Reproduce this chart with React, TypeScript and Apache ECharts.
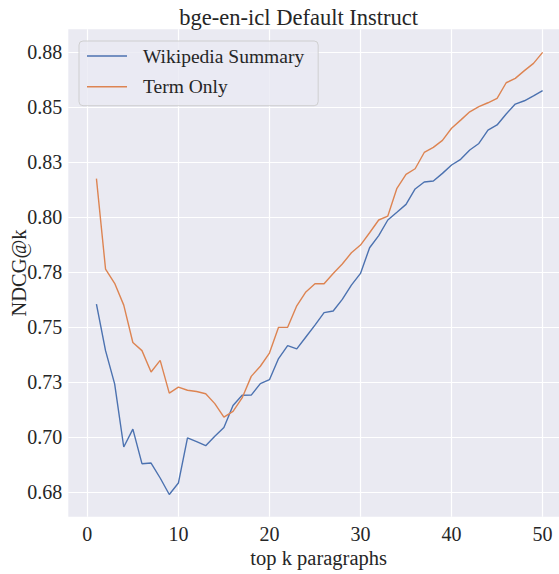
import React, { useEffect, useRef } from "react";
import * as echarts from "echarts";

const kValues = [1, 2, 3, 4, 5, 6, 7, 8, 9, 10, 11, 12, 13, 14, 15, 16, 17, 18, 19, 20, 21, 22, 23, 24, 25, 26, 27, 28, 29, 30, 31, 32, 33, 34, 35, 36, 37, 38, 39, 40, 41, 42, 43, 44, 45, 46, 47, 48, 49, 50];

const wikipediaSummary = [
  0.7606, 0.7394, 0.7243, 0.6956, 0.7037, 0.688, 0.6883, 0.6815, 0.674, 0.6792,
  0.6997, 0.698, 0.6962, 0.7005, 0.7045, 0.7145, 0.7191, 0.7192, 0.7244, 0.7262,
  0.7358, 0.7417, 0.7402, 0.7456, 0.751, 0.7567, 0.7574, 0.7627, 0.7692, 0.7745,
  0.7862, 0.7917, 0.7988, 0.8023, 0.8059, 0.8129, 0.8161, 0.8165, 0.82, 0.8238,
  0.8264, 0.8306, 0.8336, 0.8397, 0.842, 0.847, 0.8515, 0.853, 0.8552, 0.8576,
];

const termOnly = [
  0.8176, 0.7765, 0.77, 0.7601, 0.7431, 0.7394, 0.7297, 0.735, 0.7201, 0.7228,
  0.7214, 0.7208, 0.7198, 0.7153, 0.7092, 0.7118, 0.7179, 0.7277, 0.7323, 0.7383,
  0.75, 0.75, 0.7598, 0.7661, 0.7698, 0.7698, 0.7745, 0.7788, 0.7839, 0.7874,
  0.793, 0.7988, 0.8006, 0.8132, 0.8195, 0.8221, 0.8295, 0.8318, 0.835, 0.8405,
  0.8442, 0.848, 0.8503, 0.8521, 0.8541, 0.8612, 0.8632, 0.8667, 0.87, 0.875,
];

const xTicks = [0, 10, 20, 30, 40, 50];
const yTicks = [0.675, 0.7, 0.725, 0.75, 0.775, 0.8, 0.825, 0.85, 0.875];
const yTickLabels = ["0.68", "0.70", "0.73", "0.75", "0.78", "0.80", "0.83", "0.85", "0.88"];

const FONT = "'Liberation Serif', 'Times New Roman', serif";
const TEXT = "#262626";

export default function App() {
  const ref = useRef<HTMLDivElement>(null);

  useEffect(() => {
    document.body.style.margin = "0";
    if (!ref.current) return;
    const chart = echarts.init(ref.current, null, { renderer: "svg" });
    const pairs = (ys: number[]) => kValues.map((k, i) => [k, ys[i]]);
    chart.setOption({
      animation: false,
      backgroundColor: "#ffffff",
      textStyle: { fontFamily: FONT, color: TEXT },
      title: {
        text: "bge-en-icl Default Instruct",
        left: 298.7,
        top: 6,
        padding: 0,
        textAlign: "center",
        textStyle: { fontFamily: FONT, fontSize: 22.5, fontWeight: "normal", color: TEXT },
      },
      legend: {
        orient: "vertical",
        left: 79,
        top: 41,
        padding: [5, 14, 9, 8],
        itemGap: 10.7,
        itemWidth: 40,
        itemHeight: 1.5,
        icon: "rect",
        backgroundColor: "rgba(234,234,242,0.8)",
        borderColor: "rgba(204,204,204,0.9)",
        borderWidth: 1,
        borderRadius: 4,
        textStyle: { fontFamily: FONT, fontSize: 19.5, color: TEXT, lineHeight: 20, padding: [0, 0, 0, 11] },
        data: ["Wikipedia Summary", "Term Only"],
      },
      grid: {
        left: 68.3,
        right: 0,
        top: 29.3,
        bottom: 57.3,
        show: true,
        backgroundColor: "#eaeaf2",
        borderWidth: 0,
        containLabel: false,
        outerBoundsMode: "none",
      },
      xAxis: {
        type: "value",
        min: -2.09,
        max: 51.8,
        name: "top k paragraphs",
        nameLocation: "middle",
        nameGap: 31,
        nameMoveOverlap: false,
        nameTextStyle: { fontFamily: FONT, fontSize: 20.5, color: TEXT, padding: [0, 0, 0, 10] },
        axisLine: { show: false },
        axisTick: { show: false, customValues: xTicks },
        axisLabel: {
          customValues: xTicks,
          margin: 7,
          fontFamily: FONT,
          fontSize: 20,
          color: TEXT,
        },
        splitLine: { show: true, lineStyle: { color: "#ffffff", width: 1.2 } },
      },
      yAxis: {
        type: "value",
        min: 0.6639,
        max: 0.8855,
        name: "NDCG@k",
        nameLocation: "middle",
        nameGap: 38.5,
        nameMoveOverlap: false,
        nameTextStyle: { fontFamily: FONT, fontSize: 20.5, color: TEXT },
        axisLine: { show: false },
        axisTick: { show: false, customValues: yTicks },
        axisLabel: {
          customValues: yTicks,
          margin: 6,
          fontFamily: FONT,
          fontSize: 20,
          color: TEXT,
          formatter: (v: number) => {
            const i = yTicks.findIndex((t) => Math.abs(t - v) < 1e-6);
            return i >= 0 ? yTickLabels[i] : "";
          },
        },
        splitLine: { show: true, lineStyle: { color: "#ffffff", width: 1.2 } },
      },
      series: [
        {
          name: "Wikipedia Summary",
          type: "line",
          data: pairs(wikipediaSummary),
          symbol: "none",
          lineStyle: { color: "#4c72b0", width: 1.4 },
          itemStyle: { color: "#4c72b0" },
        },
        {
          name: "Term Only",
          type: "line",
          data: pairs(termOnly),
          symbol: "none",
          lineStyle: { color: "#dd8452", width: 1.4 },
          itemStyle: { color: "#dd8452" },
        },
      ],
    });
    return () => chart.dispose();
  }, []);

  return <div ref={ref} style={{ width: 559, height: 574 }} />;
}
